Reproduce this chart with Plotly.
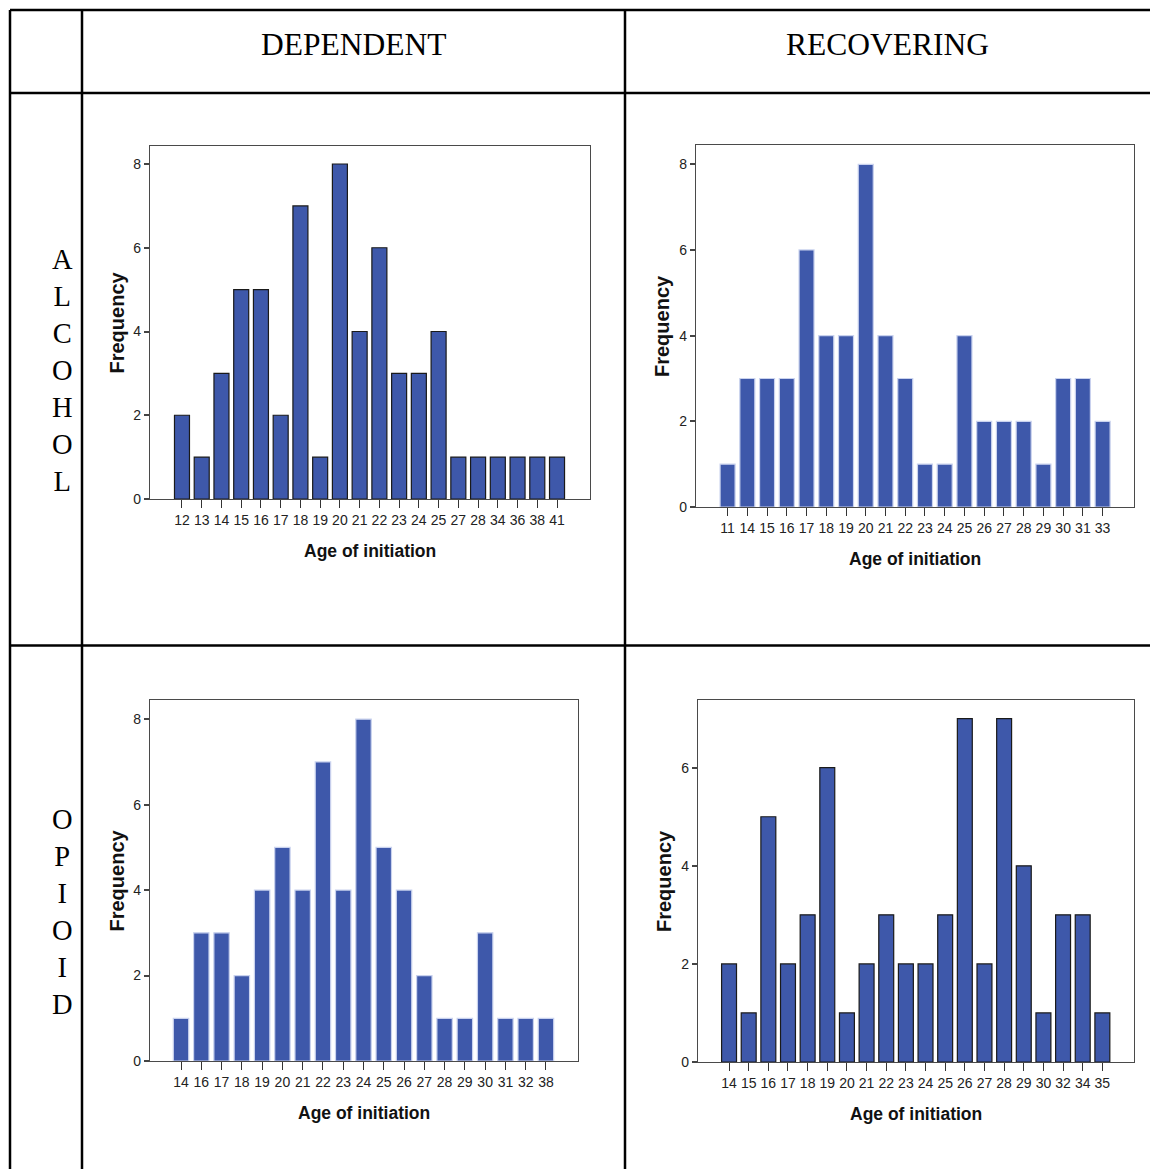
import plotly.graph_objects as go

# ---------------- data ----------------
alc_dep_ages = ["12", "13", "14", "15", "16", "17", "18", "19", "20", "21",
                "22", "23", "24", "25", "27", "28", "34", "36", "38", "41"]
alc_dep_freq = [2, 1, 3, 5, 5, 2, 7, 1, 8, 4, 6, 3, 3, 4, 1, 1, 1, 1, 1, 1]

alc_rec_ages = ["11", "14", "15", "16", "17", "18", "19", "20", "21", "22",
                "23", "24", "25", "26", "27", "28", "29", "30", "31", "33"]
alc_rec_freq = [1, 3, 3, 3, 6, 4, 4, 8, 4, 3, 1, 1, 4, 2, 2, 2, 1, 3, 3, 2]

opi_dep_ages = ["14", "16", "17", "18", "19", "20", "21", "22", "23", "24",
                "25", "26", "27", "28", "29", "30", "31", "32", "38"]
opi_dep_freq = [1, 3, 3, 2, 4, 5, 4, 7, 4, 8, 5, 4, 2, 1, 1, 3, 1, 1, 1]

opi_rec_ages = ["14", "15", "16", "17", "18", "19", "20", "21", "22", "23",
                "24", "25", "26", "27", "28", "29", "30", "32", "34", "35"]
opi_rec_freq = [2, 1, 5, 2, 3, 6, 1, 2, 3, 2, 2, 3, 7, 2, 7, 4, 1, 3, 3, 1]

col_headers = ["DEPENDENT", "RECOVERING"]
row_headers = ["ALCOHOL", "OPIOID"]
x_title = "Age of initiation"
y_title = "Frequency"

# ---------------- layout helpers ----------------
W, H = 1150, 1177
TARGET_H = 1169  # vertical extent of the target picture


def fx(p):
    return p / W


def fy(p):
    return 1 - p / TARGET_H


BAR_COLOR = "#3E58AA"
TICK_FONT = dict(family="Liberation Sans Narrow, Liberation Sans, Arial", size=14, color="#222")

panels = [
    dict(ages=alc_dep_ages, freq=alc_dep_freq, box=(150, 590, 146, 499), ymax=8.43,
         pad=(1.62, 1.67), edge="#1a1a1a"),
    dict(ages=alc_rec_ages, freq=alc_rec_freq, box=(696, 1134, 145, 507), ymax=8.45,
         pad=(1.60, 1.59), edge="#c9d2ee"),
    dict(ages=opi_dep_ages, freq=opi_dep_freq, box=(150, 578, 700, 1061), ymax=8.45,
         pad=(1.53, 1.58), edge="#c9d2ee"),
    dict(ages=opi_rec_ages, freq=opi_rec_freq, box=(698, 1134, 700, 1062), ymax=7.38,
         pad=(1.58, 1.61), edge="#1a1a1a"),
]

fig = go.Figure()
layout_axes = {}
annotations = []

for i, p in enumerate(panels, start=1):
    xa = "x" if i == 1 else f"x{i}"
    ya = "y" if i == 1 else f"y{i}"
    x0, x1, y0, y1 = p["box"]
    n = len(p["ages"])
    fig.add_trace(go.Bar(
        x=p["ages"], y=p["freq"], xaxis=xa, yaxis=ya, width=0.76,
        marker=dict(color=BAR_COLOR, line=dict(color=p["edge"], width=1.2)),
        showlegend=False, hoverinfo="x+y",
    ))
    layout_axes["xaxis" if i == 1 else f"xaxis{i}"] = dict(
        type="category", domain=[fx(x0), fx(x1)], anchor=ya,
        range=[-p["pad"][0], n - 1 + p["pad"][1]],
        showline=True, mirror=True, linecolor="#4a4a4a", linewidth=1.3,
        ticks="outside", ticklen=8, tickwidth=1.4, tickcolor="#333",
        tickfont=TICK_FONT, showgrid=False, zeroline=False, fixedrange=True,
    )
    layout_axes["yaxis" if i == 1 else f"yaxis{i}"] = dict(
        domain=[fy(y1), fy(y0)], anchor=xa, range=[0, p["ymax"]],
        dtick=2, tick0=0,
        showline=True, mirror=True, linecolor="#4a4a4a", linewidth=1.3,
        ticks="outside", ticklen=5, tickwidth=2, tickcolor="#444",
        tickfont=TICK_FONT, showgrid=False, zeroline=False, fixedrange=True,
    )
    # axis titles
    annotations.append(dict(
        text=f"<b>{x_title}</b>", xref=f"{xa} domain", yref="paper",
        x=0.5, y=fy(y1 + 52), xanchor="center", yanchor="middle", showarrow=False,
        font=dict(family="Liberation Sans, Arial", size=17.5, color="#111"),
    ))
    annotations.append(dict(
        text=f"<b>{y_title}</b>", xref="paper", yref=f"{ya} domain",
        x=fx(x0 - 34), y=0.5, xanchor="center", yanchor="middle", showarrow=False,
        textangle=-90,
        font=dict(family="Liberation Sans, Arial", size=20, color="#111"),
    ))

# column headers
for txt, cx in zip(col_headers, [353, 887]):
    annotations.append(dict(
        text=txt, xref="paper", yref="paper", x=fx(cx), y=fy(44),
        xanchor="center", yanchor="middle", showarrow=False,
        font=dict(family="Liberation Serif, Times New Roman, serif", size=31.5, color="#000"),
    ))

# row headers (stacked letters)
for txt, cy in zip(row_headers, [371, 912]):
    annotations.append(dict(
        text="<br>".join(list(txt)), xref="paper", yref="paper", x=fx(62), y=fy(cy),
        xanchor="center", yanchor="middle", showarrow=False, align="center",
        font=dict(family="Liberation Serif, Times New Roman, serif", size=28.5, color="#000"),
    ))

# table grid lines
shapes = []
LW = 2.5
for yy in [10, 93, 645.5]:
    shapes.append(dict(type="line", xref="paper", yref="paper",
                       x0=fx(10), x1=1.0, y0=fy(yy), y1=fy(yy),
                       line=dict(color="black", width=LW)))
for xx in [10, 82, 625]:
    shapes.append(dict(type="line", xref="paper", yref="paper",
                       x0=fx(xx), x1=fx(xx), y0=fy(10), y1=0.0,
                       line=dict(color="black", width=LW)))

fig.update_layout(
    width=W, height=H, margin=dict(l=0, r=0, t=0, b=0),
    paper_bgcolor="white", plot_bgcolor="white",
    annotations=annotations, shapes=shapes, **layout_axes,
)

# remove the default page margin so the figure sits at the window origin
fig.write_html(
    "out.html",
    config={"displayModeBar": False},
    post_script="document.body.style.margin='0';document.documentElement.style.margin='0';",
)
